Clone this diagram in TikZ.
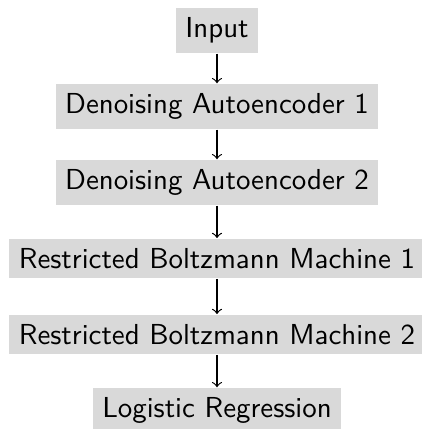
\documentclass[tikz,border=0pt]{standalone}
\usepackage{tikz}
\tikzset{
  layer/.style={fill=black!15, font=\sffamily, inner sep=0.333em},
  flow/.style={->, thin}
}
\begin{document}
\begin{tikzpicture}[x=0.346pt, y=-0.346pt]
  \useasboundingbox (0,0) rectangle (422,429);
  \node[layer] (in)   at (217,30.5)  {Input};
  \node[layer] (dae1) at (217,106.5) {Denoising Autoencoder 1};
  \node[layer] (dae2) at (217,182.5) {Denoising Autoencoder 2};
  \node[layer] (rbm1) at (217,258.5) {Restricted Boltzmann Machine 1};
  \node[layer] (rbm2) at (217,334.5) {Restricted Boltzmann Machine 2};
  \node[layer] (lr)   at (217,410.5) {Logistic Regression};
  \draw[flow] (in) -- (dae1);
  \draw[flow] (dae1) -- (dae2);
  \draw[flow] (dae2) -- (rbm1);
  \draw[flow] (rbm1) -- (rbm2);
  \draw[flow] (rbm2) -- (lr);
\end{tikzpicture}
\end{document}
